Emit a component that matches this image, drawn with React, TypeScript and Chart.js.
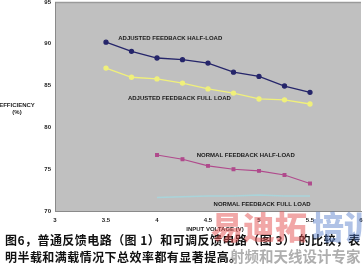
import React, { useEffect, useRef } from "react";
import { Chart, registerables } from "chart.js";

Chart.register(...registerables);

const adjX = [3.5, 3.75, 4, 4.25, 4.5, 4.75, 5, 5.25, 5.5];
const adjHalf = [90.2, 89.1, 88.3, 88.1, 87.7, 86.6, 86.1, 84.95, 84.2];
const adjFull = [87.1, 86.0, 85.8, 85.3, 84.6, 84.1, 83.4, 83.3, 82.8];
const normX = [4, 4.25, 4.5, 4.75, 5, 5.25, 5.5];
const normHalf = [76.7, 76.2, 75.4, 75.0, 74.8, 74.3, 73.3];
const normFull = [71.6, 71.7, 71.8, 71.8, 71.9, 71.8, 71.8];

const xTicks = [3, 3.5, 4, 4.5, 5, 5.5, 6];
const yTicks = [70, 75, 80, 85, 90, 95];

const seriesLabels = [
  { text: "ADJUSTED FEEDBACK HALF-LOAD", x: 4.13, y: 90.7 },
  { text: "ADJUSTED FEEDBACK FULL LOAD", x: 4.22, y: 83.5 },
  { text: "NORMAL FEEDBACK HALF-LOAD", x: 4.87, y: 76.6 },
  { text: "NORMAL FEEDBACK FULL LOAD", x: 5.03, y: 70.85 },
];

const yTitle = ["EFFICIENCY", "(%)"];
const xTitle = "INPUT VOLTAGE (V)";
const caption1 = "图6，普通反馈电路（图 1）和可调反馈电路（图 3） 的比较，表";
const caption2 = "明半载和满载情况下总效率都有显著提高。";

const toPts = (xs: number[], ys: number[]) => xs.map((x, i) => ({ x, y: ys[i] }));

const plotBg = {
  id: "plotBg",
  beforeDraw(chart: any) {
    const { ctx, chartArea: a } = chart;
    ctx.save();
    ctx.fillStyle = "#c0c0c0";
    ctx.fillRect(a.left, a.top, a.right - a.left, a.bottom - a.top);
    ctx.strokeStyle = "#9a9a9a";
    ctx.lineWidth = 1.5;
    ctx.beginPath();
    ctx.moveTo(a.left, a.top + 0.5);
    ctx.lineTo(a.right, a.top + 0.5);
    ctx.stroke();
    ctx.restore();
  },
};

const textPlugin = {
  id: "texts",
  afterDraw(chart: any) {
    const { ctx } = chart;
    const xs = chart.scales.x;
    const ys = chart.scales.y;
    ctx.save();
    ctx.fillStyle = "#1a1a1a";
    ctx.font = "bold 6px 'Liberation Sans', Arial, sans-serif";
    ctx.textAlign = "center";
    ctx.textBaseline = "middle";
    seriesLabels.forEach((l) => {
      ctx.fillText(l.text, xs.getPixelForValue(l.x), ys.getPixelForValue(l.y));
    });
    ctx.fillText(yTitle[0], 17, 105);
    ctx.fillText(yTitle[1], 17, 112);
    ctx.fillText(xTitle, 215, 229);
    ctx.restore();
  },
};

export default function App() {
  const ref = useRef<HTMLCanvasElement>(null);
  useEffect(() => {
    if (!ref.current) return;
    const chart = new Chart(ref.current, {
      type: "line",
      data: {
        datasets: [
          {
            data: toPts(adjX, adjHalf),
            borderColor: "#25256a",
            backgroundColor: "#25256a",
            borderWidth: 1.3,
            pointRadius: 2,
            pointStyle: "circle",
          },
          {
            data: toPts(adjX, adjFull),
            borderColor: "#f0f07a",
            backgroundColor: "#f0f07a",
            borderWidth: 1.3,
            pointRadius: 2,
          },
          {
            data: toPts(normX, normHalf),
            borderColor: "#b04a8c",
            backgroundColor: "#b04a8c",
            borderWidth: 1.1,
            pointRadius: 2,
            pointStyle: "rect",
          },
          {
            data: toPts(normX, normFull),
            borderColor: "#a9d4da",
            backgroundColor: "#a9d4da",
            borderWidth: 1.5,
            pointRadius: 0,
          },
        ],
      },
      options: {
        responsive: false,
        animation: false,
        layout: { autoPadding: false, padding: { top: 2, right: 2, left: 0, bottom: 0 } },
        plugins: { legend: { display: false }, tooltip: { enabled: false } },
        scales: {
          x: {
            type: "linear",
            min: 3,
            max: 6,
            afterBuildTicks: (s: any) => {
              s.ticks = xTicks.map((v) => ({ value: v }));
            },
            afterFit: (s: any) => {
              s.height = 55;
              s.paddingLeft = 0;
              s.paddingRight = 0;
            },
            grid: { display: false, drawTicks: false },
            border: { display: true, color: "#8a8a8a", width: 1 },
            ticks: {
              padding: 6,
              color: "#222",
              font: { size: 6, weight: "bold", family: "'Liberation Sans', Arial, sans-serif" },
              maxRotation: 0,
              autoSkip: false,
              callback: (v: any) => String(v),
            },
          },
          y: {
            min: 70,
            max: 95,
            afterBuildTicks: (s: any) => {
              s.ticks = yTicks.map((v) => ({ value: v }));
            },
            afterFit: (s: any) => {
              s.width = 55;
              s.paddingTop = 0;
              s.paddingBottom = 0;
            },
            grid: { display: false, drawTicks: false },
            border: { display: true, color: "#8a8a8a", width: 1 },
            ticks: {
              padding: 4,
              color: "#222",
              font: { size: 6, weight: "bold", family: "'Liberation Sans', Arial, sans-serif" },
              callback: (v: any) => String(v),
            },
          },
        },
      },
      plugins: [plotBg, textPlugin],
    } as any);
    return () => chart.destroy();
  }, []);

  const cap: React.CSSProperties = {
    position: "absolute",
    left: 5,
    fontFamily: "'Noto Sans CJK SC', sans-serif",
    fontWeight: "bold",
    fontSize: 12,
    lineHeight: "15px",
    color: "#111",
    whiteSpace: "nowrap",
    letterSpacing: 0.45,
  };
  const wm: React.CSSProperties = {
    position: "absolute",
    fontFamily: "'Noto Sans CJK SC', sans-serif",
    fontWeight: 900,
    whiteSpace: "nowrap",
    lineHeight: 1,
  };

  return (
    <div
      style={{
        position: "absolute",
        left: 0,
        top: 0,
        width: 363,
        height: 266,
        background: "#fff",
        overflow: "hidden",
      }}
    >
      <canvas ref={ref} width={363} height={266} style={{ position: "absolute", left: 0, top: 0 }} />
      <div style={{ ...cap, top: 232 }}>{caption1}</div>
      <div style={{ ...cap, top: 249 }}>{caption2}</div>
      <div style={{ ...wm, left: 211, top: 209, fontSize: 32, color: "rgba(228,80,80,0.5)" }}>易迪拓</div>
      <div style={{ ...wm, left: 312, top: 209, fontSize: 32, color: "rgba(80,120,200,0.45)" }}>培训</div>
      <div
        style={{
          ...wm,
          left: 230,
          top: 249,
          fontSize: 14.5,
          fontWeight: "bold",
          color: "rgba(120,120,120,0.6)",
        }}
      >
        射频和天线设计专家
      </div>
    </div>
  );
}
